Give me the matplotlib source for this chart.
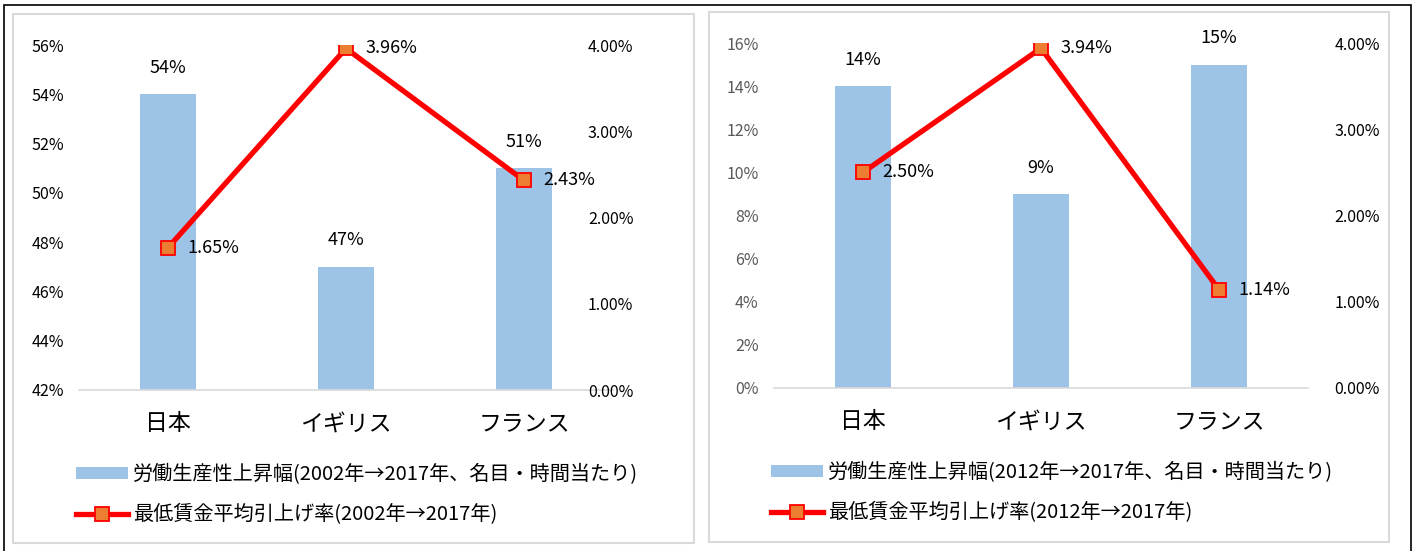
import numpy as np
import matplotlib.pyplot as plt
from matplotlib.patches import Rectangle

plt.rcParams['font.family'] = ['Noto Sans CJK JP', 'DejaVu Sans']

# data
countries = ['日本', 'イギリス', 'フランス']

prod_left = [54, 47, 51]          # 労働生産性上昇幅 2002→2017 (%)
wage_left = [1.65, 3.96, 2.43]    # 最低賃金平均引上げ率 2002→2017 (%)
prod_right = [14, 9, 15]          # 2012→2017
wage_right = [2.50, 3.94, 1.14]

bar_label_left = '労働生産性上昇幅(2002年→2017年、名目・時間当たり)'
line_label_left = '最低賃金平均引上げ率(2002年→2017年)'
bar_label_right = '労働生産性上昇幅(2012年→2017年、名目・時間当たり)'
line_label_right = '最低賃金平均引上げ率(2012年→2017年)'

W, H = 1416, 551
fig = plt.figure(figsize=(W / 100, H / 100), dpi=100)

BAR_C = '#9DC3E6'
LINE_C = '#FF0000'
MARK_C = '#ED7D31'


def px_box(x0, y0, x1, y1):
    # pixel box (top-left origin) -> figure fraction [l, b, w, h]
    return [x0 / W, 1 - y1 / H, (x1 - x0) / W, (y1 - y0) / H]


def panel(box, prod, wage, ylim, ystep, left_tick_color, rpad, lab_bar, lab_line, leg_xy):
    ax = fig.add_axes(box)
    x = np.arange(len(countries))
    bars = ax.bar(x, prod, width=0.31, color=BAR_C, zorder=2, label=lab_bar)
    ax.set_xlim(-0.5, 2.5)
    ax.set_ylim(*ylim)
    yt = np.arange(ylim[0], ylim[1] + 0.1, ystep)
    ax.set_yticks(yt)
    ax.set_yticklabels([f'{v:.0f}%' for v in yt], fontsize=11.5, color=left_tick_color)
    ax.set_xticks(x)
    ax.set_xticklabels(countries, fontsize=16.5)
    ax.tick_params(axis='both', length=0)
    ax.tick_params(axis='x', pad=16)
    ax.tick_params(axis='y', pad=11)
    for s in ['top', 'left', 'right']:
        ax.spines[s].set_visible(False)
    ax.spines['bottom'].set_color('#D9D9D9')
    ax.spines['bottom'].set_linewidth(1.2)
    for xi, v in zip(x, prod):
        ax.annotate(f'{v}%', (xi, v), xytext=(0, 19), textcoords='offset points',
                    ha='center', va='center', fontsize=13)

    ax2 = ax.twinx()
    ln, = ax2.plot(x, wage, color=LINE_C, lw=3.8, marker='s', markersize=9.5,
                   markerfacecolor=MARK_C, markeredgecolor=LINE_C, markeredgewidth=1.3,
                   zorder=3, label=lab_line)
    ax2.set_ylim(0, 4)
    ax2.set_yticks([0, 1, 2, 3, 4])
    ax2.set_yticklabels([f'{v:.2f}%' for v in [0, 1, 2, 3, 4]], fontsize=11.5)
    ax2.tick_params(axis='y', length=0, pad=rpad)
    for s in ax2.spines.values():
        s.set_visible(False)
    for xi, v in zip(x, wage):
        ax2.annotate(f'{v:.2f}%', (xi, v), xytext=(14, 0), textcoords='offset points',
                     ha='left', va='center', fontsize=13)

    fig.legend([bars, ln], [lab_bar, lab_line], loc='upper left',
               bbox_to_anchor=(leg_xy[0] / W, 1 - leg_xy[1] / H), frameon=False,
               fontsize=14.5, handlelength=2.6, handleheight=0.5, labelspacing=0.95,
               handletextpad=0.25, borderaxespad=0)
    return ax


panel(px_box(79, 45, 613, 390), prod_left, wage_left, (42, 56), 2, 'black', -18,
      bar_label_left, line_label_left, (68, 456))
panel(px_box(774, 43, 1308, 388), prod_right, wage_right, (0, 16), 2, '#595959', 19,
      bar_label_right, line_label_right, (763, 454))

# panel frames
fig.patches.append(Rectangle((13 / W, 1 - 543 / H), (694 - 13) / W, (543 - 14) / H,
                             transform=fig.transFigure, fill=False, ec='#D9D9D9', lw=1.5))
fig.patches.append(Rectangle((709 / W, 1 - 542 / H), (1389 - 709) / W, (542 - 12) / H,
                             transform=fig.transFigure, fill=False, ec='#D9D9D9', lw=1.5))
# outer black frame
fig.patches.append(Rectangle((4 / W, -0.05), (1411 - 4) / W, 1.05 - 5 / H,
                             transform=fig.transFigure, fill=False, ec='black', lw=1.2))

fig.savefig('out.png', dpi=100)
